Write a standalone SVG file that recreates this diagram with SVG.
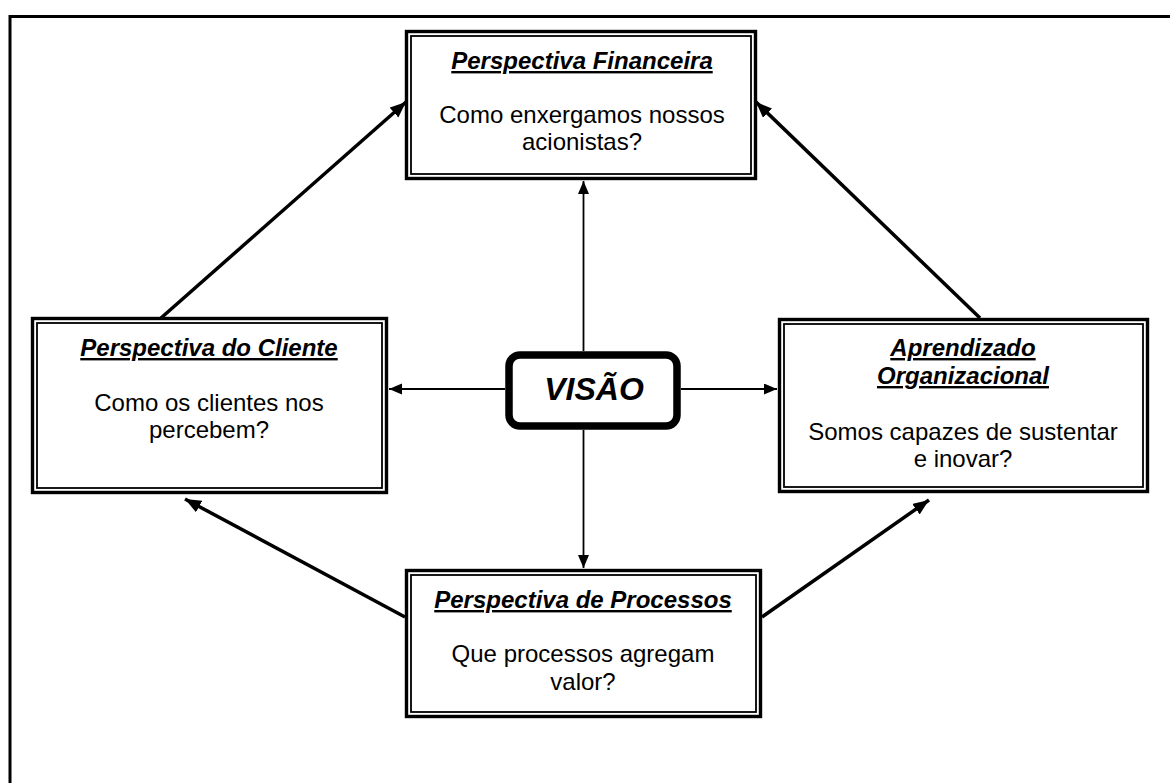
<svg xmlns="http://www.w3.org/2000/svg" width="1170" height="783" viewBox="0 0 1170 783">
<style>
text{font-family:"Liberation Sans",Arial,sans-serif;fill:#000;text-anchor:middle}
.t{font-size:24px;font-weight:bold;font-style:italic;text-decoration:underline}
.b{font-size:24px}
.o{fill:#fff;stroke:#000;stroke-width:3.4}
.i{fill:none;stroke:#000;stroke-width:1.8}
.thin{stroke:#000;stroke-width:1.8;fill:none}
.thick{stroke:#000;stroke-width:3.5;fill:none}
</style>
<defs>
<marker id="ah" markerUnits="userSpaceOnUse" markerWidth="14" markerHeight="12" refX="13" refY="5.5" orient="auto">
<path d="M0,0 L13,5.5 L0,11 z" fill="#000"/>
</marker>
<marker id="ahb" markerUnits="userSpaceOnUse" markerWidth="17" markerHeight="14" refX="16" refY="6.5" orient="auto">
<path d="M0,0 L16,6.5 L0,13 z" fill="#000"/>
</marker>
</defs>
<rect width="1170" height="783" fill="#fff"/>
<rect x="10" y="16.5" width="1200" height="800" fill="none" stroke="#000" stroke-width="3"/>

<g id="connectors">
<line class="thin" x1="583.5" y1="351" x2="583.5" y2="181" marker-end="url(#ah)"/>
<line class="thin" x1="583.5" y1="430" x2="583.5" y2="568" marker-end="url(#ah)"/>
<line class="thin" x1="505" y1="389" x2="389" y2="389" marker-end="url(#ah)"/>
<line class="thin" x1="681" y1="389" x2="777" y2="389" marker-end="url(#ah)"/>
<line class="thick" x1="161" y1="318" x2="406" y2="102" marker-end="url(#ahb)"/>
<line class="thick" x1="980" y1="318" x2="756" y2="102" marker-end="url(#ahb)"/>
<line class="thick" x1="405" y1="617" x2="185" y2="499" marker-end="url(#ahb)"/>
<line class="thick" x1="762" y1="617" x2="929" y2="500" marker-end="url(#ahb)"/>
</g>

<g id="financeira">
<rect class="o" x="406.5" y="31.5" width="349" height="147"/>
<rect class="i" x="411" y="36" width="340" height="138"/>
<text class="t" x="582" y="69">Perspectiva Financeira</text>
<text class="b" x="582" y="123">Como enxergamos nossos</text>
<text class="b" x="582" y="150">acionistas?</text>
</g>

<g id="cliente">
<rect class="o" x="32.5" y="318.5" width="354" height="174"/>
<rect class="i" x="37" y="323" width="345" height="165"/>
<text class="t" x="209" y="356">Perspectiva do Cliente</text>
<text class="b" x="209" y="411">Como os clientes nos</text>
<text class="b" x="209" y="438">percebem?</text>
</g>

<g id="aprendizado">
<rect class="o" x="779.5" y="319.5" width="368" height="172"/>
<rect class="i" x="784" y="324" width="359" height="163"/>
<text class="t" x="963" y="356">Aprendizado</text>
<text class="t" x="963" y="384">Organizacional</text>
<text class="b" x="963" y="440">Somos capazes de sustentar</text>
<text class="b" x="963" y="467">e inovar?</text>
</g>

<g id="processos">
<rect class="o" x="406.5" y="570.5" width="354" height="146"/>
<rect class="i" x="411" y="575" width="345" height="137"/>
<text class="t" x="583" y="608">Perspectiva de Processos</text>
<text class="b" x="583" y="662">Que processos agregam</text>
<text class="b" x="583" y="690">valor?</text>
</g>

<g id="visao">
<rect x="509" y="355" width="168" height="71" rx="11" fill="#fff" stroke="#000" stroke-width="7.5"/>
<text x="594" y="400" style="font-size:32px;font-weight:bold;font-style:italic">VISÃO</text>
</g>
</svg>
